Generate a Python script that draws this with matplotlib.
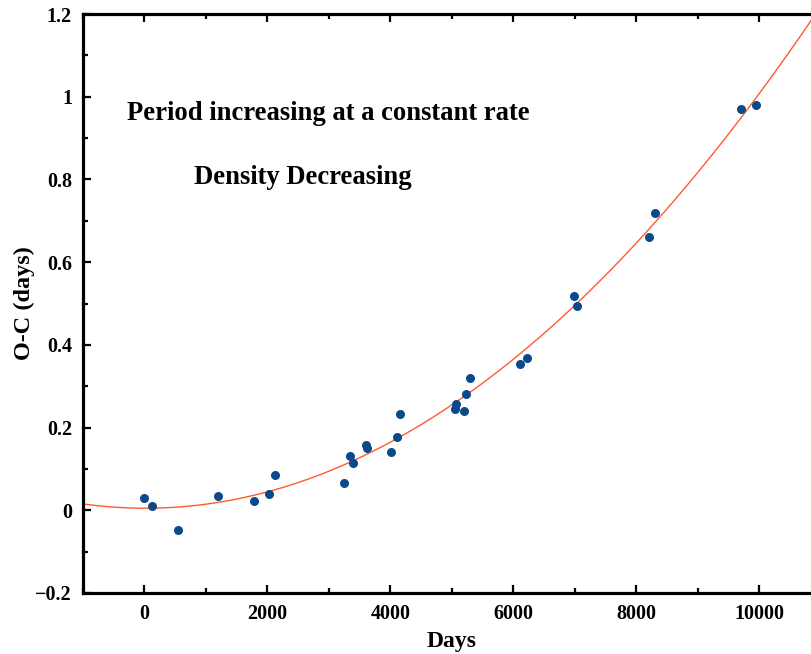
import numpy as np
import matplotlib
matplotlib.use("Agg")
import matplotlib.pyplot as plt
from matplotlib.ticker import MultipleLocator, FuncFormatter

plt.rcParams['font.family'] = ['Liberation Serif', 'DejaVu Serif']
plt.rcParams['font.weight'] = 'bold'

# observed O-C values
days = [0, 120, 545, 1195, 1780, 2020, 2130, 3245, 3340, 3395, 3600, 3620,
        4010, 4100, 4150, 5060, 5050, 5195, 5225, 5290, 6105, 6220,
        6990, 7040, 8200, 8305, 9700, 9945]
oc = [0.029, 0.010, -0.048, 0.034, 0.022, 0.040, 0.085, 0.065, 0.131, 0.115,
      0.159, 0.150, 0.140, 0.178, 0.232, 0.256, 0.245, 0.239, 0.281, 0.320,
      0.354, 0.368, 0.519, 0.495, 0.661, 0.719, 0.970, 0.980]

# quadratic ephemeris fit
coef = np.polyfit(days, oc, 2)
xfit = np.linspace(-1000, 11000, 400)
yfit = np.polyval(coef, xfit)

fig = plt.figure(figsize=(8.12, 6.54), dpi=100)
ax = fig.add_axes([83/812, 61/654, 738/812, 579/654])

ax.plot(xfit, yfit, color='#ff5a2e', lw=1.0)
ax.scatter(days, oc, s=30, color='#0b4a8a', zorder=3)

ax.set_xlim(-1000, 11000)
ax.set_ylim(-0.2, 1.2)
ax.xaxis.set_major_locator(MultipleLocator(2000))
ax.xaxis.set_minor_locator(MultipleLocator(1000))
ax.yaxis.set_major_locator(MultipleLocator(0.2))
ax.yaxis.set_minor_locator(MultipleLocator(0.1))
ax.yaxis.set_major_formatter(FuncFormatter(lambda v, p: f"{round(v, 2):g}".replace('-', '\u2212')))

ax.tick_params(which='both', direction='in', top=True, right=True, width=1.6, labelsize=14.5)
ax.tick_params(which='major', length=6, pad=8)
ax.tick_params(which='minor', length=3.5)
for s in ax.spines.values():
    s.set_linewidth(2.3)

ax.set_xlabel('Days', fontsize=17, fontweight='bold', labelpad=5)
ax.set_ylabel('O-C (days)', fontsize=17.5, fontweight='bold', labelpad=0)

ax.text(-285, 0.959, 'Period increasing at a constant rate', fontsize=19.2,
        fontweight='bold', ha='left', va='center')
ax.text(805, 0.804, 'Density Decreasing', fontsize=19.2,
        fontweight='bold', ha='left', va='center')

fig.savefig('out.png', dpi=100)
